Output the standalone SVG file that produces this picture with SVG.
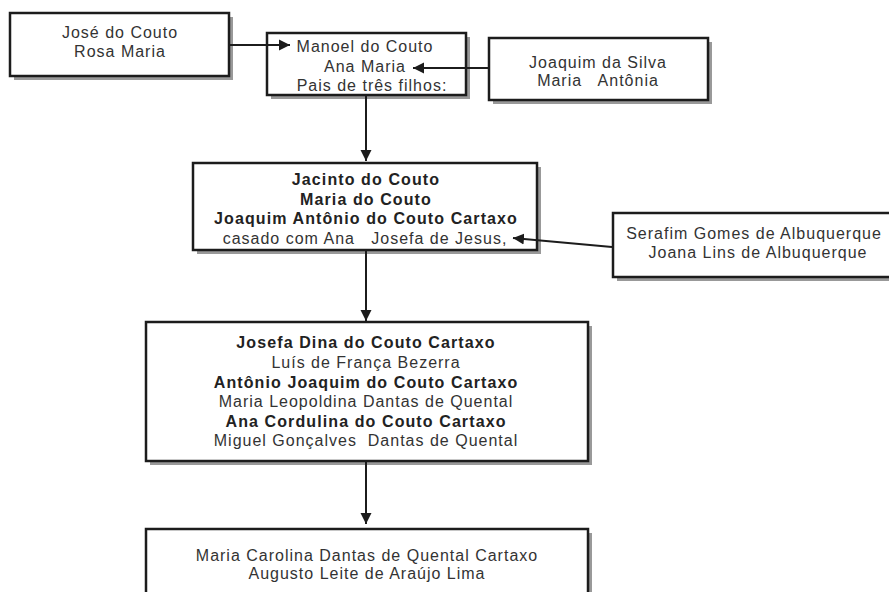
<svg xmlns="http://www.w3.org/2000/svg" width="889" height="592" viewBox="0 0 889 592">
<style>
.sh{fill:#999}
.box{fill:#fff;stroke:#1c1c1c;stroke-width:2.5}
text{font-family:"Liberation Sans",Arial,sans-serif;font-size:16px;letter-spacing:1px;fill:#333;text-anchor:middle;white-space:pre}
.b{font-weight:bold;fill:#222;letter-spacing:1.1px}
.ln{stroke:#1c1c1c;stroke-width:2;fill:none;marker-end:url(#ah)}
</style>
<defs>
<marker id="ah" markerUnits="userSpaceOnUse" markerWidth="12" markerHeight="12" refX="11" refY="6" orient="auto">
<path d="M0,0.5 L11,6 L0,11.5 z" fill="#1c1c1c"/>
</marker>
</defs>
<rect width="889" height="592" fill="#fff"/>
<g id="jose">
<rect class="sh" x="14" y="17" width="219" height="63"/>
<rect class="box" x="10" y="13" width="219" height="63"/>
<text x="120" y="38">José do Couto</text>
<text x="120" y="57">Rosa Maria</text>
</g>
<g id="manoel">
<rect class="sh" x="271" y="37" width="199" height="62"/>
<rect class="box" x="267" y="33" width="199" height="62"/>
<text x="365" y="52">Manoel do Couto</text>
<text x="365" y="71.5">Ana Maria</text>
<text x="372" y="91">Pais de três filhos:</text>
</g>
<g id="joaquim">
<rect class="sh" x="493" y="42" width="219" height="62"/>
<rect class="box" x="489" y="38" width="219" height="62"/>
<text x="598" y="68">Joaquim da Silva</text>
<text x="598" y="86">Maria   Antônia</text>
</g>
<g id="jacinto">
<rect class="sh" x="197" y="167" width="344" height="87"/>
<rect class="box" x="193" y="163" width="344" height="87"/>
<text class="b" x="366" y="185">Jacinto do Couto</text>
<text class="b" x="366" y="204.5">Maria do Couto</text>
<text class="b" x="366" y="224">Joaquim Antônio do Couto Cartaxo</text>
<text x="365" y="243.5">casado com Ana   Josefa de Jesus,</text>
</g>
<g id="serafim">
<rect class="sh" x="617" y="217" width="300" height="64"/>
<rect class="box" x="613" y="213" width="300" height="64"/>
<text x="754" y="239">Serafim Gomes de Albuquerque</text>
<text x="758" y="258">Joana Lins de Albuquerque</text>
</g>
<g id="josefa">
<rect class="sh" x="150" y="326" width="442" height="139"/>
<rect class="box" x="146" y="322" width="442" height="139"/>
<text class="b" x="366" y="348">Josefa Dina do Couto Cartaxo</text>
<text x="366" y="368">Luís de França Bezerra</text>
<text class="b" x="366" y="388">Antônio Joaquim do Couto Cartaxo</text>
<text x="366" y="407">Maria Leopoldina Dantas de Quental</text>
<text class="b" x="366" y="427">Ana Cordulina do Couto Cartaxo</text>
<text x="366" y="446">Miguel Gonçalves  Dantas de Quental</text>
</g>
<g id="carolina">
<rect class="sh" x="150" y="533" width="442" height="80"/>
<rect class="box" x="146" y="529" width="442" height="80"/>
<text x="367" y="561">Maria Carolina Dantas de Quental Cartaxo</text>
<text x="367" y="579">Augusto Leite de Araújo Lima</text>
</g>
<g id="connectors">
<line class="ln" x1="230" y1="45" x2="290" y2="45"/>
<line class="ln" x1="488" y1="68" x2="413" y2="68"/>
<line class="ln" x1="366" y1="96" x2="366" y2="161"/>
<line class="ln" x1="612" y1="247" x2="513" y2="238"/>
<line class="ln" x1="366" y1="251" x2="366" y2="321"/>
<line class="ln" x1="366" y1="462" x2="366" y2="524"/>
</g>
</svg>
